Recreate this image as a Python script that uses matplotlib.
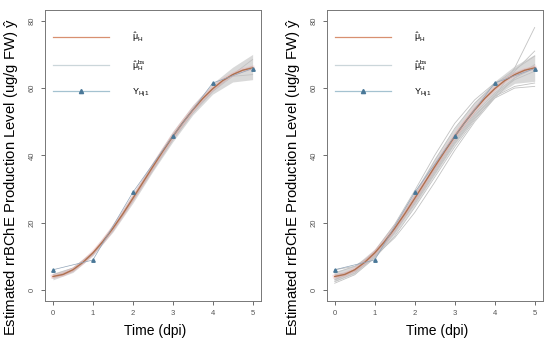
import matplotlib
matplotlib.use('Agg')
from matplotlib import pyplot as plt

plt.rcParams['font.family'] = ['Liberation Sans', 'DejaVu Sans']
plt.rcParams['mathtext.fontset'] = 'custom'
plt.rcParams['mathtext.rm'] = 'Liberation Sans'
plt.rcParams['mathtext.it'] = 'Liberation Sans'

# observed production levels
days = [0, 1, 2, 3, 4, 5]
observed = [6.0, 8.9, 29.0, 45.7, 61.5, 65.8]

# fitted mean curve (read every 0.25 dpi)
t_fit = [0, 0.25, 0.5, 0.75, 1, 1.25, 1.5, 1.75, 2, 2.25, 2.5,
         2.75, 3, 3.25, 3.5, 3.75, 4, 4.25, 4.5, 4.75, 5]
mu_fit = [4.0, 4.6, 6.0, 8.2, 11.0, 14.4, 18.3, 22.6, 27.2, 31.9, 36.6,
          41.2, 45.6, 49.7, 53.5, 56.9, 59.8, 62.2, 64.0, 65.3, 66.0]

# bootstrap envelope (every 0.5 dpi)
t_bs = [0, 0.5, 1, 1.5, 2, 2.5, 3, 3.5, 4, 4.5, 5]
left_low = [3.0, 5.2, 10.2, 17.2, 25.8, 35.2, 44.0, 52.0, 58.2, 61.8, 62.5]
left_high = [5.0, 6.8, 11.8, 19.4, 28.6, 38.0, 47.2, 55.0, 61.4, 66.2, 70.0]
right_low = [2.5, 4.8, 9.8, 16.6, 25.0, 34.2, 43.2, 51.0, 57.6, 61.4, 62.0]
right_high = [5.5, 7.2, 12.2, 20.0, 29.4, 39.2, 48.2, 56.0, 62.0, 66.6, 70.0]

# individual bootstrap curves (every 0.5 dpi)
left_curves = [
    [3.5, 5.5, 10.5, 17.5, 26.5, 36.0, 45.0, 53.0, 59.0, 64.0, 68.5],
    [4.5, 6.5, 11.0, 18.0, 26.5, 35.5, 44.5, 52.5, 59.0, 63.5, 64.0],
    [4.0, 6.0, 10.5, 18.0, 27.5, 37.0, 46.0, 53.5, 59.5, 64.0, 66.5],
]
right_curves = [
    [4.5, 5.5, 9.5, 16.0, 24.5, 33.5, 42.5, 50.5, 57.5, 66.0, 78.0],
    [3.0, 5.5, 10.5, 18.0, 27.0, 37.0, 46.0, 54.0, 60.0, 65.0, 71.0],
    [2.5, 5.0, 10.0, 17.5, 26.5, 36.0, 45.0, 52.5, 58.5, 63.0, 66.0],
    [5.0, 7.0, 11.0, 17.5, 25.5, 34.5, 43.5, 51.0, 57.0, 60.0, 60.5],
    [4.0, 6.0, 10.5, 17.5, 26.0, 35.5, 44.5, 52.0, 57.5, 60.5, 61.5],
    [2.0, 4.5, 9.5, 17.0, 26.0, 35.0, 44.0, 51.5, 58.0, 62.5, 65.0],
    [6.0, 7.0, 10.0, 15.5, 23.0, 32.0, 41.5, 50.0, 57.0, 63.0, 67.0],
    [3.5, 6.0, 11.0, 18.5, 28.0, 38.5, 48.0, 55.5, 61.0, 65.5, 69.5],
    [3.0, 6.0, 11.5, 19.5, 29.5, 40.0, 49.5, 56.5, 61.5, 64.5, 66.5],
]

panels = [
    (left_low, left_high, left_curves),
    (right_low, right_high, right_curves),
]
positions = [[0.0818, 0.1233, 0.392, 0.8475], [0.594, 0.1233, 0.3927, 0.8475]]

fig = plt.figure(figsize=(5.5, 3.43), dpi=100)

for pos, (low, high, curves) in zip(positions, panels):
    ax = fig.add_axes(pos)
    ax.fill_between(t_bs, low, high, color='#b4b4b4', alpha=0.5, lw=0)
    for c in curves:
        ax.plot(t_bs, c, color='#c2c2c2', lw=0.6)
    ax.plot(t_fit, mu_fit, color='#f0a8a8', lw=3, alpha=0.35)
    ax.plot(t_fit, mu_fit, color='#b0704e', lw=1.0)
    ax.plot(days, observed, color='#90a4b8', lw=0.5,
            marker='^', ms=2.5, mfc='#4a7898', mec='#4a7898')

    # legend proxies
    h1, = ax.plot([], [], color='#d89070', lw=0.9)
    h2, = ax.plot([], [], color='#cbd6da', lw=0.9)
    h3, = ax.plot([], [], color='#a4c2d0', lw=0.9, marker='^', ms=3,
                  mfc='#4a7898', mec='#4a7898')
    ax.legend([h1, h2, h3],
              [r'$\hat{\mathrm{\mu}}_\mathrm{H}$',
               r'$\hat{\mathrm{\mu}}_\mathrm{H}^\mathrm{bs}$',
               r'$\mathrm{Y}_\mathrm{Hj1}$'],
              loc='upper left', bbox_to_anchor=(0.02, 0.942), frameon=False,
              fontsize=6.5, handlelength=6.2, handletextpad=2.6,
              labelspacing=1.55, borderaxespad=0)

    ax.set_xlim(-0.2, 5.2)
    ax.set_ylim(-3.2, 83.2)
    ax.set_xticks(days)
    ax.set_yticks([0, 20, 40, 60, 80])
    ax.tick_params(labelsize=5.5, colors='#555555', length=3, width=0.6)
    for lab in ax.get_yticklabels():
        lab.set_rotation(90)
        lab.set_va('center')
    for s in ax.spines.values():
        s.set_color('#777777')
        s.set_linewidth(0.7)
    ax.set_xlabel('Time (dpi)', fontsize=10)
    ax.set_ylabel(r'Estimated rrBChE Production Level (ug/g FW) $\hat{\mathrm{y}}$',
                  fontsize=10.7)
    ax.xaxis.set_label_coords(0.51, -0.08)
    ax.yaxis.set_label_coords(-0.11, 0.425)

fig.savefig('out.png', dpi=100)
